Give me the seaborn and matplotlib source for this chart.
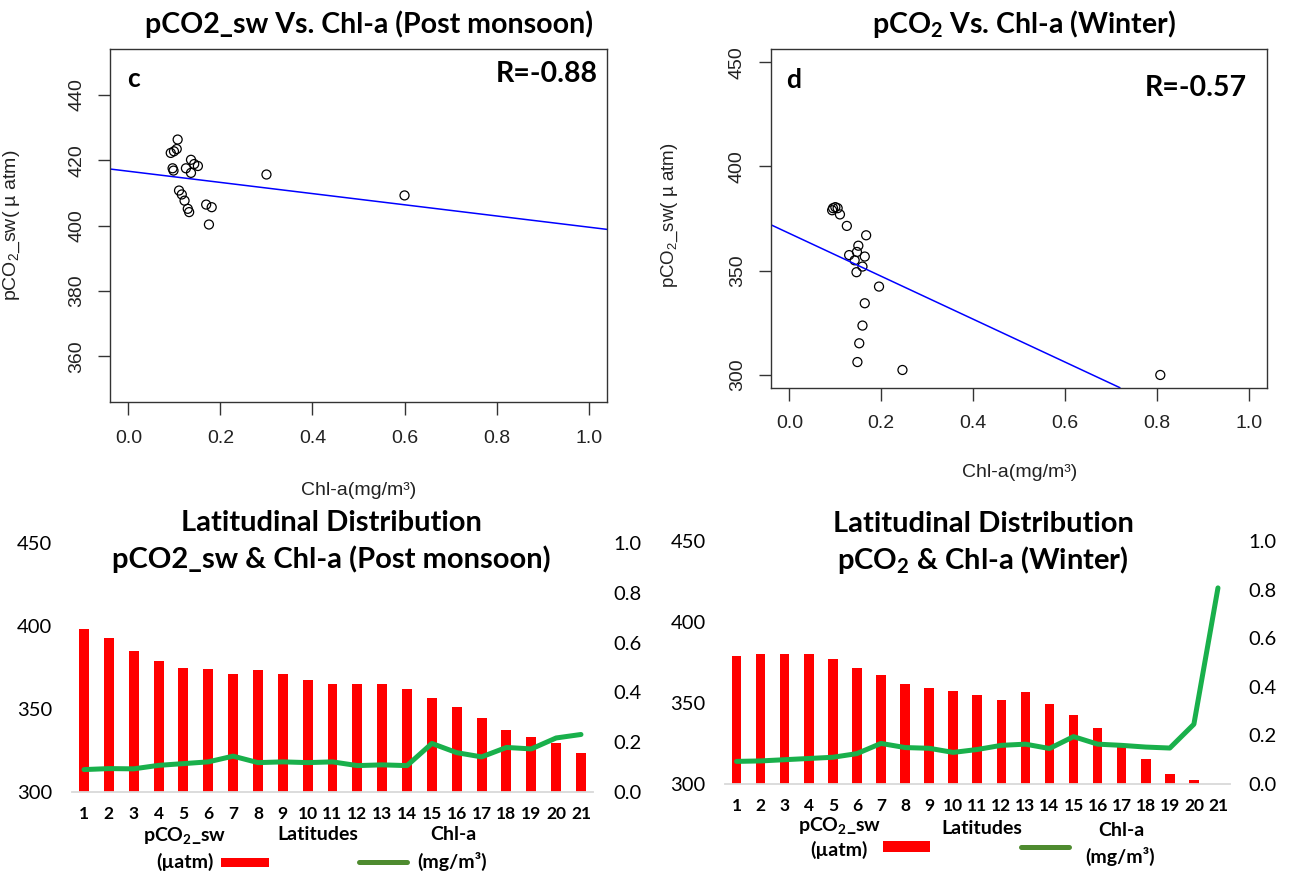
import numpy as np
import pandas as pd
import matplotlib
matplotlib.use("Agg")
import matplotlib.pyplot as plt
import seaborn as sns
from matplotlib.patches import Rectangle
from matplotlib.lines import Line2D

# ---------------- data ----------------
# (c) scatter, post monsoon
post_chl = [0.107, 0.092, 0.099, 0.105, 0.096, 0.098, 0.125, 0.136, 0.151, 0.136, 0.143,
            0.300, 0.110, 0.116, 0.122, 0.129, 0.132, 0.169, 0.181, 0.175, 0.600]
post_pco2 = [426.3, 422.2, 422.7, 423.4, 417.5, 416.8, 417.5, 420.1, 418.2, 416.1, 418.8,
             415.6, 410.7, 409.5, 407.6, 405.1, 404.1, 406.4, 405.6, 400.3, 409.2]
post_fit_intercept = 416.6
post_fit_slope = -17.1
post_r_text = "R=-0.88"

# latitudinal distribution, post monsoon
latitudes = list(range(1, 22))
post_lat_pco2 = [398.0, 393.0, 385.0, 378.9, 374.9, 374.3, 371.3, 373.5, 370.9, 367.2, 365.2,
                 365.2, 364.8, 362.2, 356.6, 351.1, 344.5, 337.6, 333.0, 329.4, 323.4]
post_lat_chl = [0.090, 0.094, 0.093, 0.107, 0.114, 0.121, 0.144, 0.118, 0.121, 0.118, 0.121,
                0.106, 0.109, 0.106, 0.195, 0.158, 0.141, 0.179, 0.173, 0.217, 0.231]

# winter (same pairs used for scatter (d) and latitudinal chart)
win_pco2 = [379.0, 380.0, 380.5, 380.0, 377.0, 371.5, 367.0, 362.0, 359.0, 357.5, 355.0,
            352.0, 356.8, 349.3, 342.4, 334.4, 323.7, 315.2, 306.2, 302.4, 300.0]
win_chl = [0.093, 0.095, 0.100, 0.105, 0.110, 0.125, 0.167, 0.150, 0.147, 0.130, 0.142,
           0.159, 0.164, 0.146, 0.195, 0.164, 0.159, 0.152, 0.148, 0.246, 0.807]
win_fit_intercept = 367.9
win_fit_slope = -102.9
win_r_text = "R=-0.57"

chl_ticks = [0.0, 0.2, 0.4, 0.6, 0.8, 1.0]

# ---------------- style ----------------
sns.set_theme(style="white")
plt.rcParams['font.family'] = ['Liberation Sans', 'DejaVu Sans']
plt.rcParams['mathtext.fontset'] = 'custom'
plt.rcParams['mathtext.rm'] = 'Liberation Sans'
plt.rcParams['mathtext.bf'] = 'Lato:bold'
plt.rcParams['mathtext.default'] = 'rm'

W, H = 1291, 874
def fx(x):
    return x / W
def fy(y):
    return 1 - y / H
def box(l, t, r, b):
    return [fx(l), fy(b), (r - l) / W, (b - t) / H]

fig = plt.figure(figsize=(W / 100, H / 100), dpi=100)
fig.patch.set_facecolor('white')

BOLD = dict(family=['Lato', 'DejaVu Sans'], fontweight='bold', color='black')
RCOL = '#222222'

def r_style(ax, yticks, ylim, fs=14):
    ax.set_xlim(-0.04, 1.04)
    ax.set_ylim(*ylim)
    ax.set_xticks(chl_ticks)
    ax.set_xticklabels([f"{t:.1f}" for t in chl_ticks])
    ax.set_yticks(yticks)
    ax.set_yticklabels([str(t) for t in yticks], rotation=90, va='center')
    for s in ax.spines.values():
        s.set_visible(True)
        s.set_color('#333333')
        s.set_linewidth(1.0)
    ax.tick_params(axis='both', direction='out', length=9, width=1, color='#333333',
                   labelcolor=RCOL, labelsize=fs, bottom=True, left=True, top=False, right=False)
    ax.tick_params(axis='x', pad=11)
    ax.tick_params(axis='y', pad=9)

# ---------- (c) ----------
ax1 = fig.add_axes(box(110, 49, 607, 402))
sns.scatterplot(x=post_chl, y=post_pco2, ax=ax1, s=42, facecolor='none',
                edgecolor='black', linewidth=0.9, legend=False)
ax1.axline((0, post_fit_intercept), slope=post_fit_slope, color='#0000FF', lw=1.1)
r_style(ax1, [360, 380, 400, 420, 440], (346, 454))
ax1.set_xlabel("Chl-a(mg/m³)", fontsize=14, color=RCOL)
ax1.set_ylabel("pCO$_2$_sw( µ atm)", fontsize=14, color=RCOL)
ax1.xaxis.set_label_coords(0.5, (402 - 482) / 353)
ax1.yaxis.set_label_coords((22 - 110) / 497, 0.5)
fig.text(fx(127), fy(79), "c", fontsize=19, ha='left', va='center', **BOLD)
fig.text(fx(598), fy(74), post_r_text, fontsize=20.5, ha='right', va='center', **BOLD)
fig.text(fx(369), fy(24), "pCO2_sw Vs. Chl-a (Post monsoon)", fontsize=20.5,
         ha='center', va='center', **BOLD)

# ---------- (d) ----------
ax2 = fig.add_axes(box(771, 49.3, 1267.4, 387.7))
sns.scatterplot(x=win_chl, y=win_pco2, ax=ax2, s=42, facecolor='none',
                edgecolor='black', linewidth=0.9, legend=False)
ax2.axline((0, win_fit_intercept), slope=win_fit_slope, color='#0000FF', lw=1.1)
r_style(ax2, [300, 350, 400, 450], (293.9, 456.2))
ax2.set_xlabel("Chl-a(mg/m³)", fontsize=14, color=RCOL)
ax2.set_ylabel("pCO$_2$_sw( µ atm)", fontsize=13.5, color=RCOL)
ax2.xaxis.set_label_coords(0.5, (387.7 - 464) / 338.4)
ax2.yaxis.set_label_coords((680 - 771) / 496.4, 0.51)
fig.text(fx(786), fy(80), "d", fontsize=19, ha='left', va='center', **BOLD)
fig.text(fx(1247), fy(88), win_r_text, fontsize=20.5, ha='right', va='center', **BOLD)
fig.text(fx(1024), fy(24), "pCO$_\\mathbf{2}$ Vs. Chl-a (Winter)", fontsize=20.5,
         ha='center', va='center', **BOLD)

# ---------- latitudinal charts ----------
BAR_RED = '#FF0000'
LINE_GREEN = '#19B04B'
LEG_GREEN = '#4E8B2F'

def lat_chart(rect, pco2, chl, lpad, rpad):
    df = pd.DataFrame({'lat': latitudes, 'pco2': pco2, 'chl': chl})
    ax = fig.add_axes(rect)
    ax.patch.set_alpha(0)
    sns.barplot(data=df, x='lat', y='pco2', ax=ax, color=BAR_RED, saturation=1,
                width=0.4, linewidth=0, errorbar=None)
    ax.set_ylim(300, 450)
    ax.set_yticks([300, 350, 400, 450])
    ax.set_xlabel('')
    ax.set_ylabel('')
    for k, s in ax.spines.items():
        s.set_visible(k == 'bottom')
    ax.spines['bottom'].set_color('#D9D9D9')
    ax.spines['bottom'].set_linewidth(1.3)
    ax.tick_params(axis='both', length=0)
    ax.tick_params(axis='y', labelsize=14.5, pad=lpad, labelcolor='black')
    ax.tick_params(axis='x', labelsize=12.5, pad=10, labelcolor='black')
    for t in ax.get_yticklabels():
        t.set_family(['Lato', 'DejaVu Sans'])
    for t in ax.get_xticklabels():
        t.set_family(['Lato', 'DejaVu Sans'])
        t.set_fontweight('bold')
    axr = ax.twinx()
    axr.patch.set_alpha(0)
    sns.lineplot(x=df.index, y=df['chl'], ax=axr, color=LINE_GREEN, lw=3.6, legend=False)
    axr.set_ylim(0, 1)
    axr.set_yticks(chl_ticks)
    axr.set_yticklabels([f"{t:.1f}" for t in chl_ticks])
    axr.set_ylabel('')
    for s in axr.spines.values():
        s.set_visible(False)
    axr.tick_params(axis='y', length=0, labelsize=14.5, pad=rpad, labelcolor='black')
    for t in axr.get_yticklabels():
        t.set_family(['Lato', 'DejaVu Sans'])
    ax.set_xlim(-0.5, len(latitudes) - 0.5)
    return ax

lat_chart(box(71.6, 543, 593.4, 792), post_lat_pco2, post_lat_chl, 14, 14.5)
lat_chart(box(724.5, 541, 1230, 784), win_pco2, win_chl, 13.5, 13.5)

# titles
fig.text(fx(331), fy(523), "Latitudinal Distribution", fontsize=21, ha='center', va='center', **BOLD)
fig.text(fx(331), fy(559), "pCO2_sw & Chl-a (Post monsoon)", fontsize=21, ha='center', va='center', **BOLD)
fig.text(fx(983), fy(524), "Latitudinal Distribution", fontsize=21, ha='center', va='center', **BOLD)
fig.text(fx(983), fy(560), "pCO$_\\mathbf{2}$ & Chl-a (Winter)", fontsize=21, ha='center', va='center', **BOLD)

# legends (Excel-style)
def legend(px_box, red_rect, green_line, texts):
    l, t, r, b = px_box
    fig.add_artist(Rectangle((fx(l), fy(b)), (r - l) / W, (b - t) / H,
                             transform=fig.transFigure, facecolor='white', edgecolor='none'))
    l, t, r, b = red_rect
    fig.add_artist(Rectangle((fx(l), fy(b)), (r - l) / W, (b - t) / H,
                             transform=fig.transFigure, facecolor=BAR_RED, edgecolor='none'))
    x0, x1, yy = green_line
    fig.add_artist(Line2D([fx(x0), fx(x1)], [fy(yy), fy(yy)], transform=fig.transFigure,
                          color=LEG_GREEN, lw=3.6, solid_capstyle='round'))
    for (x, y, s) in texts:
        fig.text(fx(x), fy(y), s, fontsize=14, ha='center', va='center', **BOLD)

legend((213, 850, 414, 871), (221, 858, 269, 867), (359, 407, 862),
       [(185, 836, "pCO$_\\mathbf{2}$_sw"), (185, 862, "(µatm)"), (318, 834, "Latitudes"),
        (453, 834, "Chl-a"), (452, 861, "(mg/m³)")])
legend((877, 835, 1080, 858), (883, 841, 930, 852), (1021, 1069, 847),
       [(840, 826, "pCO$_\\mathbf{2}$_sw"), (839, 850, "(µatm)"), (982, 829, "Latitudes"),
        (1121, 831, "Chl-a"), (1120, 856, "(mg/m³)")])

fig.savefig("out.png", dpi=100, facecolor='white')
